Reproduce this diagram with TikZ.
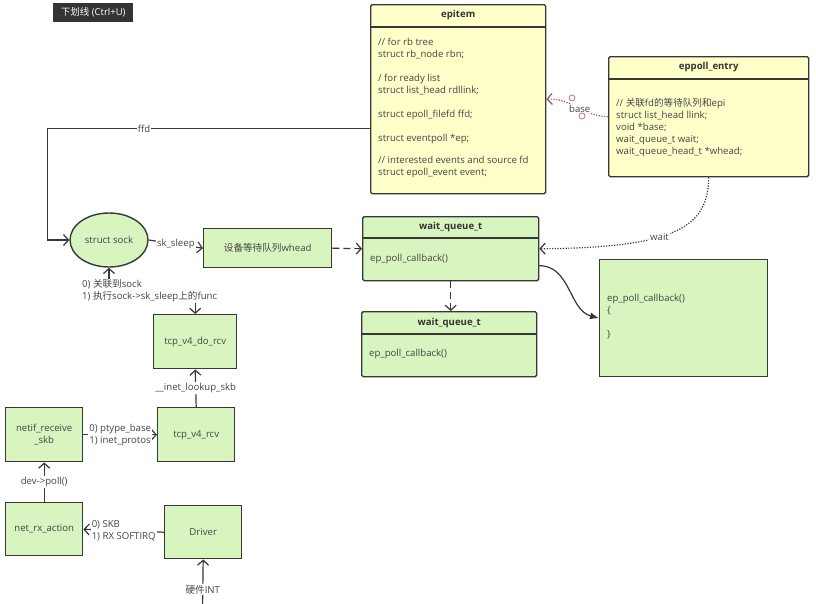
\documentclass[tikz,border=0pt]{standalone}
\usepackage{fontspec}
\setmainfont{Open Sans}
\newfontfamily\cjk{Noto Sans CJK SC}
\usepackage{xcolor}
\usepackage{tikz}
\usetikzlibrary{shapes.geometric,positioning,calc,arrows.meta}

\definecolor{boxgreen}{RGB}{216,245,192}
\definecolor{boxyellow}{RGB}{255,255,202}
\definecolor{lineclr}{RGB}{55,55,55}
\definecolor{txtclr}{RGB}{68,68,68}
\definecolor{tipgrey}{RGB}{52,52,52}
\definecolor{handleclr}{RGB}{190,120,135}
\newcommand\codefont{\fontsize{9.6}{12}\selectfont}

\tikzset{
  gbox/.style={draw=lineclr, line width=1.4pt, fill=boxgreen, text=txtclr, inner sep=0pt, anchor=north west, font=\codefont, align=center},
  ybox/.style={gbox, fill=boxyellow, rounded corners=1.5pt},
  hbox/.style={gbox, rounded corners=1.5pt},
  title/.style={font=\bfseries\codefont, text=black!80, inner sep=0pt},
  code/.style={anchor=north west, align=left, inner sep=0pt, text=txtclr, font=\codefont},
  conn/.style={draw=lineclr, line width=1.2pt, -{Straight Barb[length=5pt,width=11pt]}},
  lbl/.style={fill=white, text=txtclr, inner sep=1pt, font=\codefont},
}

\begin{document}
\begin{tikzpicture}[x=1pt, y=-1pt]
  \useasboundingbox (0,0) rectangle (816,603);

  % Tooltip
  \node[fill=tipgrey, text=white, font=\fontsize{9.5}{11}\selectfont, minimum width=80pt, minimum height=19pt, inner sep=0pt, anchor=north west] (tip) at (53,3) {{\cjk 下划线} (Ctrl+U)};

  % epitem
  \node[ybox, minimum width=175pt, minimum height=189pt] (epitem) at (370,4) {};
  \draw[draw=lineclr, line width=1.4pt] ([yshift=-23pt]epitem.north west) -- ([yshift=-23pt]epitem.north east);
  \node[title] (epitemtitle) at ([yshift=-11.5pt]epitem.north) {epitem};
  \node[code] (epitemcode) at (378,38) {// for rb tree\\ struct rb\_node rbn;\\[12pt] / for ready list\\ struct list\_head rdllink;\\[12pt] struct epoll\_filefd ffd;\\[12pt] struct eventpoll *ep;\\[10pt] // interested events and source fd\\ struct epoll\_event event;};

  % eppoll_entry
  \node[ybox, minimum width=200pt, minimum height=120pt] (eppoll) at (608,56) {};
  \draw[draw=lineclr, line width=1.4pt] ([yshift=-23pt]eppoll.north west) -- ([yshift=-23pt]eppoll.north east);
  \node[title] (eppolltitle) at ([yshift=-11.5pt]eppoll.north) {eppoll\_entry};
  \node[code] (eppollcode) at (616,98) {// {\cjk 关联}fd{\cjk 的等待队列和}epi\\ struct list\_head llink;\\ void *base;\\ wait\_queue\_t wait;\\ wait\_queue\_head\_t *whead;};

  % base pointer (with curve handles)
  \draw[conn, draw=handleclr!60!lineclr, dash pattern=on 1.2pt off 1.5pt] (eppoll.west) .. controls (582,116) and (572,98) .. node[lbl, pos=0.45] {base} (epitem.east);
  \draw[handleclr, fill=white, line width=0.8pt] (582,116) circle (3pt) (572,98) circle (3pt);

  % struct sock and its wait queue
  \node[ellipse, draw=lineclr, line width=1.4pt, fill=boxgreen, text=txtclr, font=\codefont, minimum width=78pt, minimum height=54pt, inner sep=0pt] (sock) at (109,240) {struct sock};
  \node[gbox, minimum width=128pt, minimum height=39pt] (whead) at (203,228) {{\cjk 设备等待队列}whead};
  \draw[conn] ([yshift=-29.5pt]epitem.west) -| node[lbl, pos=0.35] {ffd} ([xshift=-22pt]sock.west) -- (sock.west);
  \draw[conn] (sock.east) -- node[lbl, pos=0.5] {sk\_sleep} (whead.west);

  % wait_queue_t entries
  \node[hbox, minimum width=176pt, minimum height=64pt] (wq1) at (362,216) {};
  \draw[draw=lineclr, line width=1.4pt] ([yshift=-22pt]wq1.north west) -- ([yshift=-22pt]wq1.north east);
  \node[title] (wq1title) at ([yshift=-11pt]wq1.north) {wait\_queue\_t};
  \node[code] (wq1code) at (370,254) {ep\_poll\_callback()};

  \node[hbox, minimum width=175pt, minimum height=65pt] (wq2) at (361,311) {};
  \draw[draw=lineclr, line width=1.4pt] ([yshift=-23pt]wq2.north west) -- ([yshift=-23pt]wq2.north east);
  \node[title] (wq2title) at ([yshift=-11.5pt]wq2.north) {wait\_queue\_t};
  \node[code] (wq2code) at (369,349) {ep\_poll\_callback()};

  \draw[conn, dash pattern=on 7pt off 4pt] (whead.east) -- (wq1.west);
  \draw[conn, dash pattern=on 7pt off 4pt] (wq1.south) -- (wq1.south |- wq2.north);
  \draw[conn, dash pattern=on 1.2pt off 1.5pt] (eppoll.south) .. controls (708,225) and (680,248) .. node[lbl, pos=0.6] {wait} (wq1.east);

  % callback body
  \node[gbox, minimum width=168pt, minimum height=117pt] (cb) at (599,259) {};
  \node[code] (cbcode) at (607,294) {ep\_poll\_callback()\\ \{\\[12pt] \}};
  \draw[draw=lineclr, line width=1.2pt, -{Latex[length=9pt,width=7pt]}] ([yshift=-17pt]wq1.east) to[out=0, in=165] (cb.west);

  % receive path
  \node[gbox, minimum width=83pt, minimum height=54pt] (dorcv) at (153,314) {tcp\_v4\_do\_rcv};
  \node[gbox, minimum width=77pt, minimum height=54pt] (rcv) at (157,407) {tcp\_v4\_rcv};
  \node[gbox, minimum width=77pt, minimum height=54pt] (netif) at (5,407) {netif\_receive\\\_skb};
  \node[gbox, minimum width=77pt, minimum height=53pt] (netrx) at (5,502) {net\_rx\_action};
  \node[gbox, minimum width=77pt, minimum height=53pt] (driver) at (164,505) {Driver};
  \coordinate (hwint) at (202.5,610);

  \draw[conn, {Straight Barb[length=5pt,width=11pt]}-{Straight Barb[length=5pt,width=11pt]}] (sock.south) -- ++(0,24) -| (dorcv.north);
  \node[lbl, align=left, anchor=west] (sockops) at (81,291) {0) {\cjk 关联到}sock\\ 1) {\cjk 执行}sock->sk\_sleep{\cjk 上的}func};
  \draw[conn] (rcv.north) -- node[lbl] {\_\_inet\_lookup\_skb} (dorcv.south);
  \draw[conn] (netif.east) -- node[lbl, align=left] {0) ptype\_base\\ 1) inet\_protos} (rcv.west);
  \draw[conn] (netrx.north) -- node[lbl] {dev->poll()} (netif.south);
  \draw[conn] (driver.west) -- node[lbl, align=left] {0) SKB\\ 1) RX SOFTIRQ} (netrx.east);
  \draw[conn] (hwint) -- node[lbl, pos=0.4] {{\cjk 硬件}INT} (driver.south);
\end{tikzpicture}
\end{document}
